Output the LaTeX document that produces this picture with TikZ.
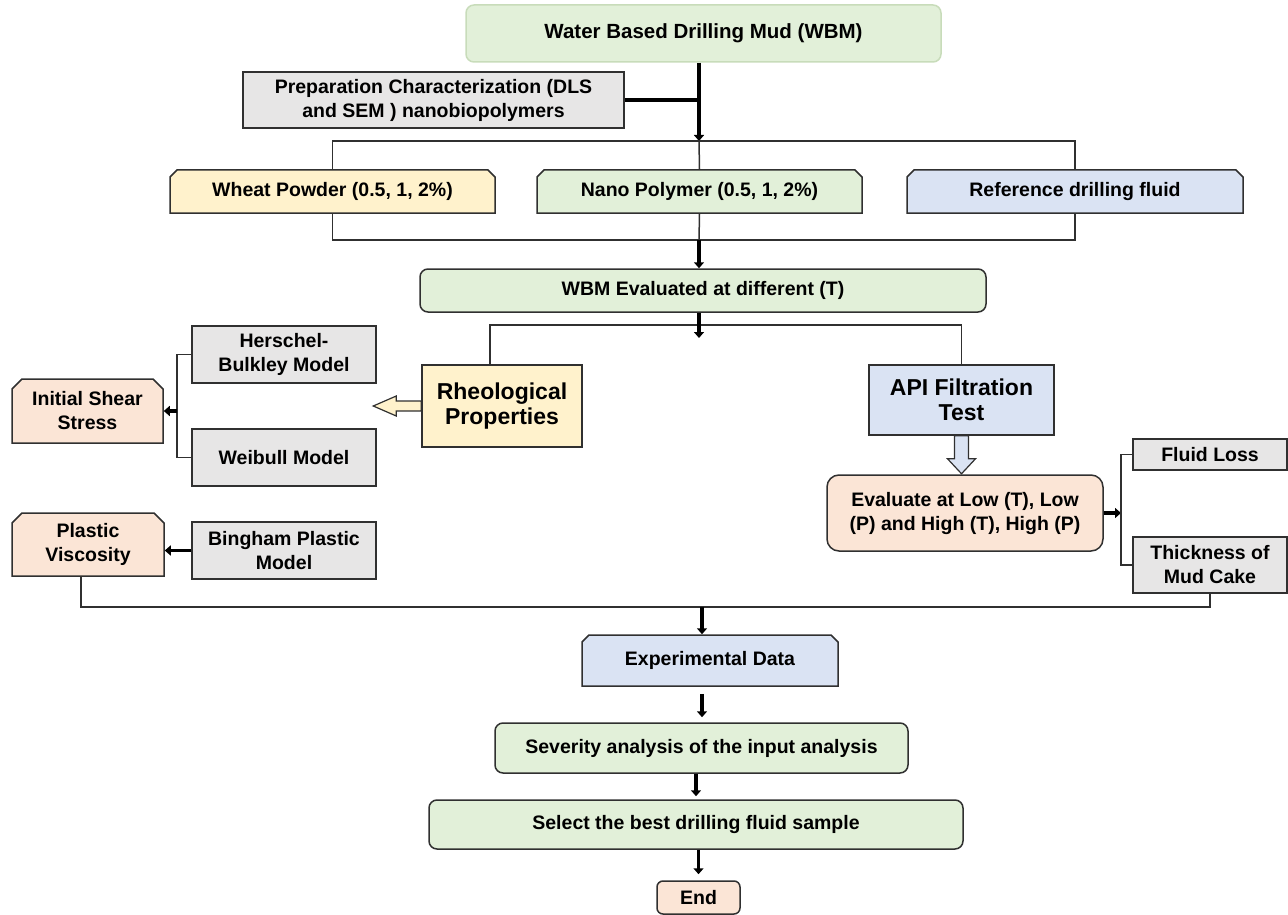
\documentclass[tikz,border=0pt]{standalone}
\usepackage{fontspec}
\setmainfont{Liberation Sans}
\usetikzlibrary{positioning, calc, arrows.meta, shapes.misc}

\definecolor{edge}{HTML}{303030}
\definecolor{paleedge}{HTML}{C8DCBA}
\definecolor{greyfill}{HTML}{E7E6E6}
\definecolor{greenfill}{HTML}{E2F0D9}
\definecolor{yellowfill}{HTML}{FFF2CC}
\definecolor{bluefill}{HTML}{DAE3F3}
\definecolor{peachfill}{HTML}{FBE5D6}

\begin{document}
\begin{tikzpicture}[
    x=1pt, y=-1pt,
    box/.style={rectangle, draw=edge, line width=1.5pt, inner sep=2pt, align=center, text=black,
        font=\fontsize{19.5}{24}\selectfont\bfseries},
    model/.style={box, fill=greyfill},
    rbox/.style={box, rounded corners=8pt},
    snip/.style={box, chamfered rectangle, chamfered rectangle corners={north west, north east},
        chamfered rectangle xsep=3.5pt, chamfered rectangle ysep=3.5pt},
    bigfont/.style={font=\fontsize{23}{25}\selectfont\bfseries},
    conn/.style={draw=edge, line width=1.5pt},
    flow/.style={draw=black, line width=3.5pt, -{Triangle[length=6pt, width=10pt]}},
    bar/.style={draw=black, line width=3.5pt},
    hollow/.style={draw=edge, line width=1.2pt, line join=miter}
]
    \useasboundingbox (0,0) rectangle (1288,915);

    % Top
    \node[rbox, fill=greenfill, draw=paleedge, minimum width=475pt, minimum height=57pt, font=\fontsize{20.5}{24}\selectfont\bfseries] (wbm) at (703.5,33.5) {Water Based Drilling Mud (WBM)};
    \node[model, minimum width=381pt, minimum height=56pt] (prep) at (433.5,100) {Preparation Characterization (DLS\\and SEM ) nanobiopolymers};

    % Samples
    \node[snip, fill=yellowfill, minimum width=325pt, minimum height=43pt] (wheat) at (332.5,191.5) {Wheat Powder (0.5, 1, 2\%)};
    \node[snip, fill=greenfill, minimum width=325pt, minimum height=43pt] (nano) at (699.5,191.5) {Nano Polymer (0.5, 1, 2\%)};
    \node[snip, fill=bluefill, minimum width=336pt, minimum height=43pt] (reffluid) at (1075,191.5) {Reference drilling fluid};

    \node[rbox, fill=greenfill, minimum width=566pt, minimum height=43pt] (evalwbm) at (703,290.5) {WBM Evaluated at different (T)};

    % Rheology
    \node[model, minimum width=184pt, minimum height=57pt] (herschel) at (284,354.5) {Herschel-\\Bulkley Model};
    \node[model, minimum width=184pt, minimum height=57pt] (weibull) at (284,457.5) {Weibull Model};
    \node[snip, fill=peachfill, minimum width=151pt, minimum height=64pt, chamfered rectangle xsep=5pt, chamfered rectangle ysep=5pt] (shear) at (87.5,411) {Initial Shear\\Stress};
    \node[box, bigfont, fill=yellowfill, minimum width=160pt, minimum height=82pt] (rheo) at (502,406) {Rheological\\Properties};
    \node[snip, fill=peachfill, minimum width=152pt, minimum height=63pt, chamfered rectangle xsep=5pt, chamfered rectangle ysep=5pt] (viscosity) at (88,544.5) {Plastic\\Viscosity};
    \node[model, minimum width=184pt, minimum height=57pt] (bingham) at (284,550.5) {Bingham Plastic\\Model};

    % Filtration
    \node[box, bigfont, fill=bluefill, minimum width=185pt, minimum height=70pt] (api) at (961.5,400) {API Filtration\\Test};
    \node[rbox, rounded corners=12pt, fill=peachfill, minimum width=276pt, minimum height=76pt] (lowhigh) at (965,513) {Evaluate at Low (T), Low\\(P) and High (T), High (P)};
    \node[model, minimum width=154pt, minimum height=31pt] (fluidloss) at (1210,454.5) {Fluid Loss};
    \node[model, minimum width=154pt, minimum height=56pt] (mudcake) at (1210,565) {Thickness of\\Mud Cake};

    % Bottom
    \node[snip, fill=bluefill, minimum width=256pt, minimum height=51pt] (expdata) at (710,660.5) {Experimental Data};
    \node[rbox, fill=greenfill, minimum width=413pt, minimum height=50pt] (severity) at (701.5,748) {Severity analysis of the input analysis};
    \node[rbox, fill=greenfill, minimum width=534pt, minimum height=49pt] (best) at (696,824.5) {Select the best drilling fluid sample};
    \node[rbox, rounded corners=6pt, fill=peachfill, minimum width=83pt, minimum height=33pt] (finish) at (698.5,897.5) {End};

    % Junctions
    \coordinate (split1) at (699,141);
    \coordinate (join1) at (699,240);
    \coordinate (split2) at (699,325);
    \coordinate (split2tip) at (699,338);
    \coordinate (split3) at (177,411);
    \coordinate (split4) at (1121,513);
    \coordinate (join2) at (702,607);

    % Connectors
    \draw[bar] (prep.east) -- (prep.east -| split1);
    \draw[flow] (wbm.south -| split1) -- (split1);
    \draw[conn] (wheat.north) |- (split1) -| (reffluid.north);
    \draw[conn] (split1) -- (nano.north);
    \draw[conn] (wheat.south) |- (join1) -| (reffluid.south);
    \draw[conn] (nano.south) -- (join1);
    \draw[flow] (join1) -- (evalwbm.north -| join1);

    \draw[conn] ([xshift=-12pt]rheo.north) |- (split2) -| (api.north);
    \draw[flow] (evalwbm.south -| split2) -- (split2tip);

    \draw[hollow, fill=yellowfill] (rheo.west) ++(0,-5) -- ++(-25,0) -- ++(0,-5) -- ++(-23,10) -- ++(23,10) -- ++(0,-5) -- ++(25,0) -- cycle;
    \draw[hollow, fill=bluefill] (api.south) ++(-7,0) -- ++(0,23) -- ++(-7,0) -- ++(14,15) -- ++(14,-15) -- ++(-7,0) -- ++(0,-23) -- cycle;

    \draw[conn] (herschel.west) -| (split3) |- (weibull.west);
    \draw[flow] (split3) -- (shear.east);
    \draw[flow] (bingham.west) -- (bingham.west -| viscosity.east);

    \draw[flow] (lowhigh.east) -- (split4);
    \draw[conn] (fluidloss.west) -| (split4) |- (mudcake.west);

    \draw[conn] ([xshift=-7pt]viscosity.south) |- (join2) -| (mudcake.south);
    \draw[flow] (join2) -- (expdata.north -| join2);
    \draw[flow, shorten <=7pt, shorten >=5pt] (expdata.south -| join2) -- (severity.north -| join2);
    \draw[flow, shorten >=3pt] (severity.south -| best) -- (best.north);
    \draw[flow, shorten >=6pt] (best.south -| finish) -- (finish.north);

\end{tikzpicture}
\end{document}
